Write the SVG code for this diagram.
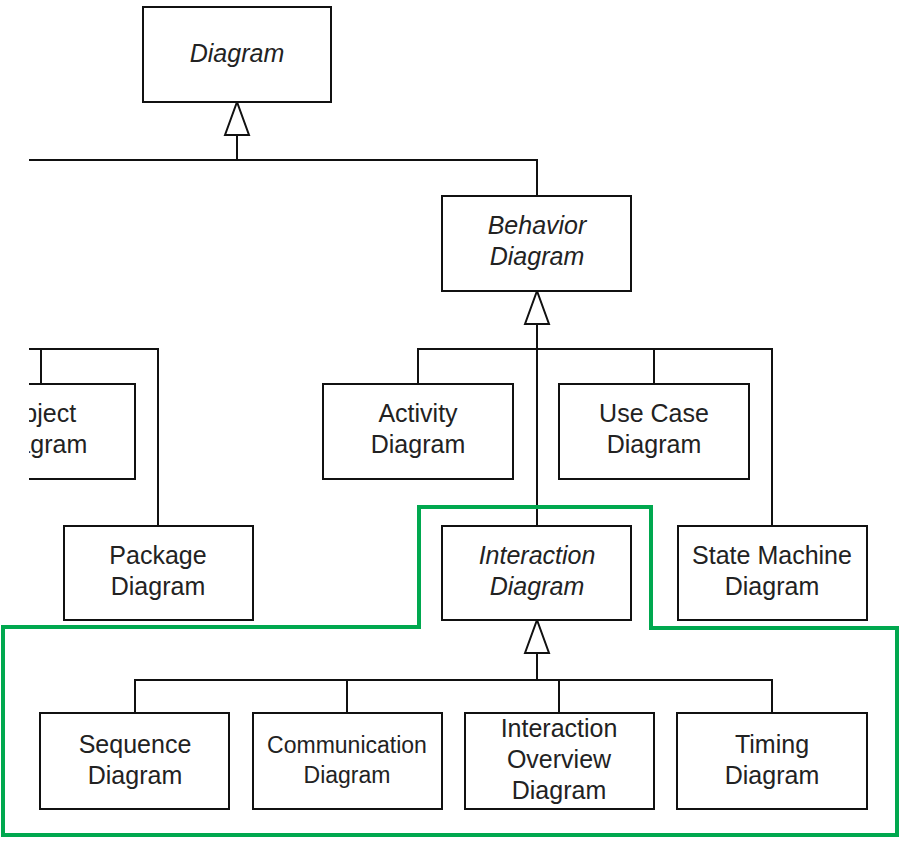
<svg xmlns="http://www.w3.org/2000/svg" width="915" height="848" viewBox="0 0 915 848">
<style>
.box{fill:#fff;stroke:#111;stroke-width:2}
.ln{fill:none;stroke:#111;stroke-width:2}
text{font-family:"Liberation Sans",Arial,sans-serif;font-size:25px;fill:#222;text-anchor:middle}
.it{font-style:italic}
.sm{font-size:23px}
.frame{fill:none;stroke:#00a84f;stroke-width:4}
</style>
<defs>
<marker id="gen" viewBox="-2 -2 37 28" refX="33" refY="12" markerWidth="37" markerHeight="28" orient="auto" markerUnits="userSpaceOnUse">
<path d="M0,0 L33,12 L0,24 Z" fill="#fff" stroke="#111" stroke-width="2"/>
</marker>
<clipPath id="crop"><rect x="29" y="0" width="886" height="848"/></clipPath>
</defs>
<rect width="915" height="848" fill="#fff"/>
<g clip-path="url(#crop)">
<g id="connectors">
<path class="ln" d="M29,160 H537 V196"/>
<path class="ln" d="M237,160 V102" marker-end="url(#gen)"/>
<path class="ln" d="M29,349 H158 V526"/>
<path class="ln" d="M41,349 V384"/>
<path class="ln" d="M418,384 V349 H772 V526"/>
<path class="ln" d="M654,349 V384"/>
<path class="ln" d="M537,526 V291" marker-end="url(#gen)"/>
<path class="ln" d="M135,713 V680 H772 V713"/>
<path class="ln" d="M347,680 V713"/>
<path class="ln" d="M559,680 V713"/>
<path class="ln" d="M537,680 V620" marker-end="url(#gen)"/>
</g>
<g id="diagram"><rect class="box" x="143" y="7" width="188" height="95"/><text class="it" x="237" y="62">Diagram</text></g>
<g id="behavior"><rect class="box" x="442" y="196" width="189" height="95"/><text class="it" x="537" y="234">Behavior</text><text class="it" x="537" y="265">Diagram</text></g>
<g id="object"><rect class="box" x="-55" y="384" width="190" height="95"/><text x="40" y="422">Object</text><text x="40" y="453">Diagram</text></g>
<g id="activity"><rect class="box" x="323" y="384" width="190" height="95"/><text x="418" y="422">Activity</text><text x="418" y="453">Diagram</text></g>
<g id="usecase"><rect class="box" x="559" y="384" width="190" height="95"/><text x="654" y="422">Use Case</text><text x="654" y="453">Diagram</text></g>
<g id="package"><rect class="box" x="64" y="526" width="189" height="94"/><text x="158" y="564">Package</text><text x="158" y="595">Diagram</text></g>
<g id="interaction"><rect class="box" x="442" y="526" width="189" height="94"/><text class="it" x="537" y="564">Interaction</text><text class="it" x="537" y="595">Diagram</text></g>
<g id="statemachine"><rect class="box" x="678" y="526" width="189" height="94"/><text x="772" y="564">State Machine</text><text x="772" y="595">Diagram</text></g>
<g id="sequence"><rect class="box" x="40" y="713" width="189" height="96"/><text x="135" y="753">Sequence</text><text x="135" y="784">Diagram</text></g>
<g id="communication"><rect class="box" x="253" y="713" width="189" height="96"/><text class="sm" x="347" y="753">Communication</text><text class="sm" x="347" y="783">Diagram</text></g>
<g id="overview"><rect class="box" x="465" y="713" width="189" height="96"/><text x="559" y="737">Interaction</text><text x="559" y="768">Overview</text><text x="559" y="799">Diagram</text></g>
<g id="timing"><rect class="box" x="677" y="713" width="190" height="96"/><text x="772" y="753">Timing</text><text x="772" y="784">Diagram</text></g>
</g>
<path class="frame" d="M3,627 H419 V507 H651 V628 H897 V835 H3 Z"/>
</svg>
